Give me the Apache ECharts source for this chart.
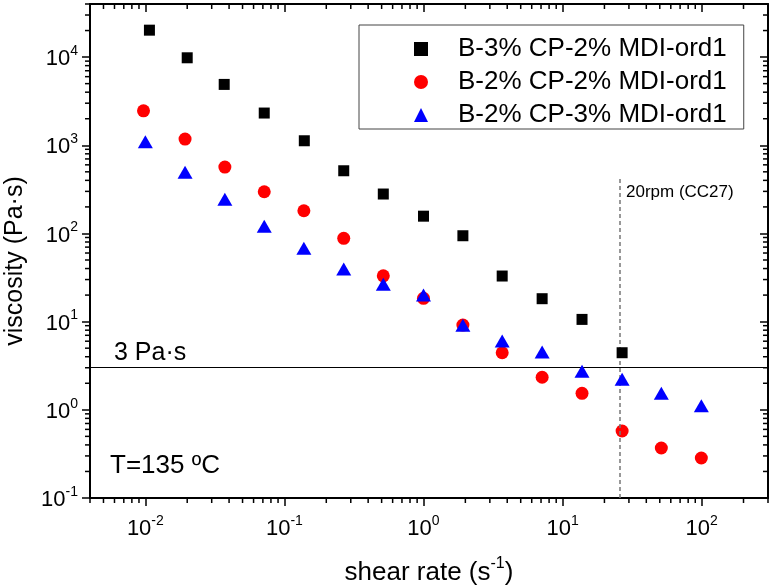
<!DOCTYPE html>
<html>
<head>
<meta charset="utf-8">
<script src="https://cdn.jsdelivr.net/npm/echarts@6/dist/echarts.min.js"></script>
<style>
  html, body { margin: 0; padding: 0; background: #fff; }
  #chart { width: 773px; height: 588px; }
</style>
</head>
<body>
<div id="chart"></div>
<script>
// values
var seriesNames = ['B-3% CP-2% MDI-ord1', 'B-2% CP-2% MDI-ord1', 'B-2% CP-3% MDI-ord1'];

var rateB3 = [0.0107, 0.0200, 0.0369, 0.0716, 0.139, 0.267, 0.514, 1.0, 1.92, 3.68, 7.13, 13.8, 26.8];
var viscB3 = [20200, 9820, 4900, 2320, 1125, 514, 280, 157, 94.2, 32.9, 18.2, 10.6, 4.44];

var rateB2 = [0.0097, 0.0193, 0.0373, 0.0716, 0.138, 0.267, 0.514, 1.0, 1.92, 3.68, 7.13, 13.8, 26.8, 51.3, 99.5];
var viscB2 = [2460, 1176, 566, 297, 181, 88, 33.1, 18.4, 9.15, 4.44, 2.34, 1.54, 0.575, 0.369, 0.284];

var rateB2M3 = [0.0100, 0.0193, 0.0373, 0.0716, 0.138, 0.267, 0.514, 1.0, 1.92, 3.68, 7.13, 13.8, 26.8, 51.3, 99.5];
var viscB2M3 = [1096, 493, 245, 121, 67.8, 39.5, 26.5, 20.0, 9.08, 6.03, 4.52, 2.73, 2.22, 1.54, 1.11];

var xMin = 0.004, xMax = 300;
var yMin = 0.1, yMax = 40000;
var refViscosity = 3;        // horizontal line
var rpmRate = 25.8;          // dashed line (20rpm, CC27)
var rpmLineTop = 425;

var font = "'Liberation Sans', Arial, sans-serif";

function pairs(xs, ys) {
    return xs.map(function (x, i) { return [x, ys[i]]; });
}

// minor ticks at 2..9 x 10^k
function minorTicks(lo, hi) {
    var out = [];
    for (var e = Math.floor(Math.log10(lo)); e <= Math.ceil(Math.log10(hi)); e++) {
        for (var m = 2; m <= 9; m++) {
            var v = m * Math.pow(10, e);
            if (v >= lo * 0.999 && v <= hi * 1.001) out.push(v);
        }
    }
    return out;
}
var xMinor = minorTicks(xMin, xMax);
var yMinor = minorTicks(yMin, yMax);

function powLabel(v) {
    var l = Math.log10(v);
    var e = Math.round(l);
    if (Math.abs(l - e) > 1e-6) return '';
    return '{b|10}{s|' + e + '}';
}
var labelRich = {
    b: { fontSize: 22, fontFamily: font, color: '#000', verticalAlign: 'bottom', lineHeight: 26 },
    s: { fontSize: 14, fontFamily: font, color: '#000', verticalAlign: 'top', lineHeight: 26 }
};

var axisLine = { show: true, lineStyle: { color: '#000', width: 2 } };
var tickOut = { show: true, inside: false, length: 8, lineStyle: { color: '#000', width: 1.5 } };
var tickIn = { show: true, inside: true, length: 8, lineStyle: { color: '#000', width: 1.5 } };

var myChart = echarts.init(document.getElementById('chart'));
var option = {
    backgroundColor: '#fff',
    animation: false,
    grid: { left: 90, right: 5, top: 4, bottom: 90, outerBoundsMode: 'none', containLabel: false },
    legend: {
        data: seriesNames,
        orient: 'vertical',
        left: 359,
        top: 25,
        backgroundColor: '#fff',
        borderColor: '#444',
        borderWidth: 1,
        borderRadius: 0,
        padding: [11, 17, 1, 55],
        itemWidth: 14,
        itemHeight: 14,
        itemGap: 7,
        textStyle: { fontSize: 26, fontFamily: font, color: '#000', lineHeight: 26, padding: [0, 0, 0, 25] }
    },
    xAxis: [{
        type: 'log',
        logBase: 10,
        min: xMin,
        max: xMax,
        name: '{b|shear rate (s}{s|-1}{b|)}',
        nameLocation: 'middle',
        nameGap: 58,
        nameTextStyle: {
            rich: {
                b: { fontSize: 26, fontFamily: font, color: '#000', verticalAlign: 'bottom', lineHeight: 30 },
                s: { fontSize: 16, fontFamily: font, color: '#000', verticalAlign: 'top', lineHeight: 30 }
            }
        },
        axisLine: axisLine,
        axisTick: tickOut,
        axisLabel: { margin: 16, formatter: powLabel, rich: labelRich, showMinLabel: false, showMaxLabel: false },
        splitLine: { show: false },
        minorTick: { show: false }
    }, {
        type: 'log',
        logBase: 10,
        min: xMin,
        max: xMax,
        position: 'top',
        axisLine: axisLine,
        axisTick: tickIn,
        axisLabel: { show: false },
        splitLine: { show: false }
    }],
    yAxis: [{
        type: 'log',
        logBase: 10,
        min: yMin,
        max: yMax,
        name: 'viscosity (Pa·s)',
        nameLocation: 'middle',
        nameGap: 62,
        nameTextStyle: { fontSize: 25, fontFamily: font, color: '#000', padding: [0, 20, 0, 0] },
        axisLine: axisLine,
        axisTick: tickOut,
        axisLabel: { margin: 12, formatter: powLabel, rich: labelRich, showMinLabel: true, showMaxLabel: false },
        splitLine: { show: false }
    }, {
        type: 'log',
        logBase: 10,
        min: yMin,
        max: yMax,
        position: 'right',
        axisLine: axisLine,
        axisTick: tickIn,
        axisLabel: { show: false },
        splitLine: { show: false }
    }],
    graphic: [
        { type: 'text', left: 110, top: 453, style: { text: 'T=135 ºC', font: '26px ' + font, fill: '#000' } },
        { type: 'text', left: 114, top: 341, style: { text: '3 Pa·s', font: '25px ' + font, fill: '#000' } },
        { type: 'text', left: 626, top: 184, style: { text: '20rpm (CC27)', font: '17px ' + font, fill: '#000' } }
    ],
    series: [{
        name: seriesNames[0],
        type: 'scatter',
        symbol: 'rect',
        symbolSize: 11,
        itemStyle: { color: '#000000', opacity: 1 },
        data: pairs(rateB3, viscB3),
        z: 5,
        markLine: {
            silent: true,
            symbol: 'none',
            label: { show: false },
            data: [
                { yAxis: refViscosity, lineStyle: { color: '#000', width: 1, type: 'solid' } },
                [
                    { coord: [rpmRate, yMin], lineStyle: { color: '#777', width: 1.5, type: [4, 3] } },
                    { coord: [rpmRate, rpmLineTop] }
                ]
            ]
        }
    }, {
        name: seriesNames[1],
        type: 'scatter',
        symbol: 'circle',
        symbolSize: 13,
        itemStyle: { color: '#ff0000', opacity: 1 },
        data: pairs(rateB2, viscB2),
        z: 4
    }, {
        name: seriesNames[2],
        type: 'scatter',
        symbol: 'triangle',
        symbolSize: [15, 13],
        itemStyle: { color: '#0000ff', opacity: 1 },
        data: pairs(rateB2M3, viscB2M3),
        z: 6
    }, {
        // minor ticks on bottom (outside) and top (inside)
        type: 'custom',
        silent: true,
        clip: false,
        data: xMinor.map(function (v) { return [v, yMin]; }),
        renderItem: function (params, api) {
            var b = api.coord([api.value(0), yMin]);
            var t = api.coord([api.value(0), yMax]);
            var st = { stroke: '#000', lineWidth: 1.5 };
            return {
                type: 'group',
                children: [
                    { type: 'line', shape: { x1: b[0], y1: b[1], x2: b[0], y2: b[1] + 5 }, style: st },
                    { type: 'line', shape: { x1: t[0], y1: t[1], x2: t[0], y2: t[1] + 5 }, style: st }
                ]
            };
        }
    }, {
        // minor ticks on left (outside) and right (inside)
        type: 'custom',
        silent: true,
        clip: false,
        data: yMinor.map(function (v) { return [xMin, v]; }),
        renderItem: function (params, api) {
            var l = api.coord([xMin, api.value(1)]);
            var r = api.coord([xMax, api.value(1)]);
            var st = { stroke: '#000', lineWidth: 1.5 };
            return {
                type: 'group',
                children: [
                    { type: 'line', shape: { x1: l[0] - 5, y1: l[1], x2: l[0], y2: l[1] }, style: st },
                    { type: 'line', shape: { x1: r[0] - 5, y1: r[1], x2: r[0], y2: r[1] }, style: st }
                ]
            };
        }
    }]
};
myChart.setOption(option);
</script>
</body>
</html>
